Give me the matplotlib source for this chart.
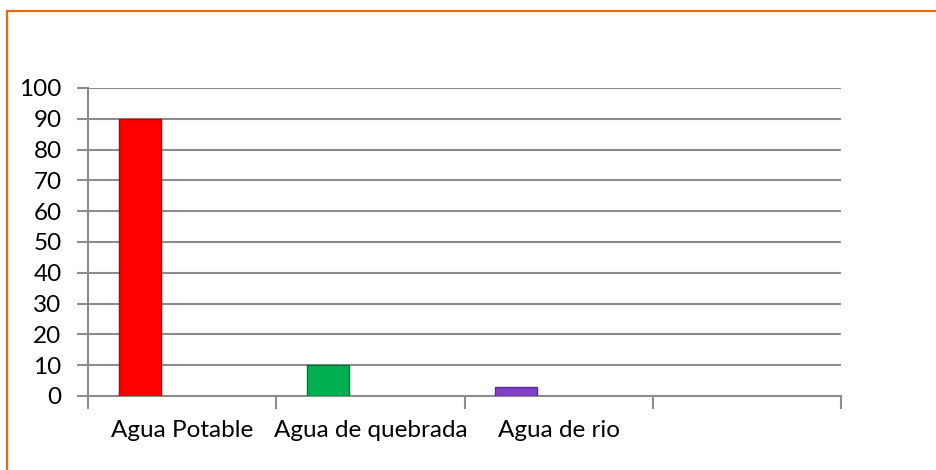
import matplotlib
matplotlib.use("Agg")
import matplotlib.pyplot as plt
from matplotlib.patches import Rectangle
import numpy as np

categories = ["Agua Potable", "Agua de quebrada", "Agua de rio", ""]
values = [90, 10, 3, 0]
colors = ["#FF0000", "#00B050", "#8040C8", "#FFFFFF"]
edges = ["#C00000", "#007A38", "#5A2A90", "#FFFFFF"]
yticks = list(range(0, 101, 10))

plt.rcParams['font.family'] = ['Lato', 'DejaVu Sans']

fig = plt.figure(figsize=(9.36, 4.70), dpi=100)
ax = fig.add_axes([88/936, 1-396/470, (841-88)/936, (396-88)/470])

x = np.arange(len(categories))
w = 0.225
for i in range(3):
    ax.bar(x[i] - w, values[i], width=w, color=colors[i], edgecolor=edges[i],
           linewidth=1.0, zorder=3)

ax.set_xlim(-0.5, len(categories) - 0.5)
ax.set_ylim(0, 100)
ax.set_yticks(yticks)
ax.yaxis.grid(True, color="#8C8C8C", linewidth=1.5, zorder=0)
ax.set_axisbelow(True)

ax.set_xticks(np.arange(-0.5, len(categories), 1.0))
ax.set_xticklabels([])
ax.set_xticks(x, minor=True)
ax.set_xticklabels(categories, minor=True, fontsize=17.5)
ax.tick_params(axis='x', which='minor', length=0, pad=17)
ax.tick_params(axis='x', which='major', length=9, width=1.5, color="#8C8C8C", direction='out')
ax.tick_params(axis='y', length=8, width=1.5, color="#8C8C8C", pad=11, labelsize=17.5)

for s in ['top', 'right']:
    ax.spines[s].set_visible(False)
for s in ['left', 'bottom']:
    ax.spines[s].set_color("#8C8C8C")
    ax.spines[s].set_linewidth(1.5)

border = Rectangle((7.5/936, -0.5), 2.0, 1.5 - 11/470, transform=fig.transFigure,
                   fill=False, edgecolor="#E46C0A", linewidth=1.6, clip_on=False)
fig.patches.append(border)

fig.savefig("out.png", dpi=100)
